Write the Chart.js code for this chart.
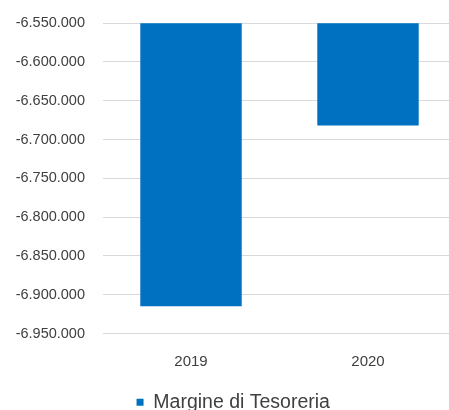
<!DOCTYPE html>
<html>
<head>
<meta charset="utf-8">
<script src="https://cdn.jsdelivr.net/npm/chart.js@4/dist/chart.umd.min.js"></script>
<style>
    html, body { margin: 0; padding: 0; background: #fff; overflow: hidden; }
    #wrap { width: 449px; height: 410px; overflow: hidden; }
    #margineChart { display: block; margin-top: -3px; }
</style>
</head>
<body>
<div id="wrap">
    <canvas id="margineChart" width="460" height="425"></canvas>
</div>
<script>
// Margine di Tesoreria per anno
const years = ["2019", "2020"];
const margineValues = [-6915000, -6682000];
const axisMin = -6950000;
const axisMax = -6550000;
const axisStep = 50000;

function formatIt(value) {
    const sign = value < 0 ? "-" : "";
    const digits = Math.abs(Math.round(value)).toString();
    return sign + digits.replace(/\B(?=(\d{3})+(?!\d))/g, ".");
}

document.addEventListener("DOMContentLoaded", function () {
    Chart.defaults.font.family = "'Liberation Sans', Arial, sans-serif";
    Chart.defaults.color = "#404040";

    const canvas = document.getElementById("margineChart");
    new Chart(canvas.getContext("2d"), {
        type: "bar",
        data: {
            labels: years,
            datasets: [
                {
                    label: "Margine di Tesoreria",
                    data: margineValues,
                    backgroundColor: "#0070C0",
                    borderWidth: 0,
                    barPercentage: 0.573,
                    categoryPercentage: 1,
                },
            ],
        },
        options: {
            responsive: false,
            animation: false,
            devicePixelRatio: 1,
            layout: {
                padding: { top: 12, left: 10, right: 3.5, bottom: 0 },
            },
            plugins: {
                tooltip: { enabled: false },
                legend: {
                    position: "bottom",
                    labels: {
                        boxWidth: 7,
                        boxHeight: 7,
                        padding: 10,
                        color: "#404040",
                        font: { size: 19.5 },
                    },
                },
            },
            scales: {
                x: {
                    grid: { display: false, drawTicks: false },
                    border: { display: false },
                    ticks: { padding: 19, font: { size: 15 }, color: "#404040" },
                    afterFit: function (scale) {
                        scale.height = 49;
                    },
                },
                y: {
                    min: axisMin,
                    max: axisMax,
                    grid: { color: "#d9d9d9", lineWidth: 1, drawTicks: false },
                    border: { display: false },
                    ticks: {
                        stepSize: axisStep,
                        padding: 17.5,
                        font: { size: 14.5 },
                        color: "#404040",
                        callback: function (value) {
                            return formatIt(value);
                        },
                    },
                    afterFit: function (scale) {
                        scale.width = 92.5;
                    },
                },
            },
        },
    });
});
</script>
</body>
</html>
